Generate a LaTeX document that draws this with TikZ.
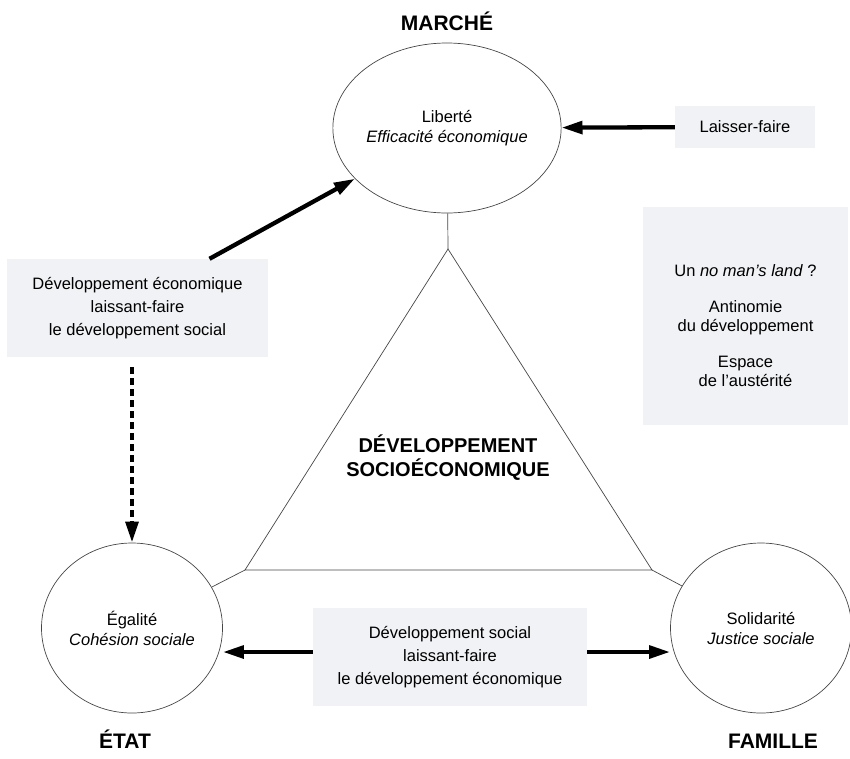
\documentclass[tikz,border=0pt]{standalone}
\usepackage{fontspec}
\setmainfont{Liberation Sans}
\usetikzlibrary{arrows.meta,shapes.geometric}
\definecolor{fondgris}{RGB}{241,242,245}
\definecolor{trait}{RGB}{70,70,70}

\begin{document}
\begin{tikzpicture}[x=1pt,y=-1pt,
  pole/.style={ellipse,draw=trait,line width=0.7pt,minimum width=181pt,minimum height=170pt,inner sep=0pt,align=center,font=\fontsize{16.5}{20}\selectfont},
  cadre/.style={fill=fondgris,align=center,inner sep=0pt,font=\fontsize{16.5}{23}\selectfont},
  titre/.style={anchor=base,font=\bfseries\fontsize{21}{25}\selectfont},
  fleche/.style={line width=4.3pt,-{Triangle[length=21pt,width=12.5pt]}},
  fin/.style={draw=trait,line width=0.7pt}]
\useasboundingbox (0,0) rectangle (850,758);

% les trois poles
\node[pole] (marche) at (447,128) {Liberté\\\textit{Efficacité économique}};
\node[pole] (etat) at (132,628) {Égalité\\\textit{Cohésion sociale}};
\node[pole] (famille) at (761,628) {Solidarité\\\textit{Justice sociale}};

\node[titre] (lab-marche) at (447,30) {MARCHÉ};
\node[titre] (lab-etat) at (125,748) {ÉTAT};
\node[titre] (lab-famille) at (773,748) {FAMILLE};

% triangle central
\coordinate (sommet) at (448,249);
\coordinate (base-g) at (245,570);
\coordinate (base-d) at (652,570);
\draw[fin] (sommet) -- (base-g) -- (base-d) -- cycle;
\draw[fin] (marche) -- (sommet);
\draw[fin] (base-g) -- (etat);
\draw[fin] (base-d) -- (famille);
\node[font=\bfseries\fontsize{20}{24}\selectfont,align=center] (centre) at (448,458) {DÉVELOPPEMENT\\SOCIOÉCONOMIQUE};

% encadres
\node[cadre,minimum width=261pt,minimum height=98pt] (dev-eco) at (137.5,308) {Développement économique\\laissant-faire\\le développement social};
\node[cadre,minimum width=274pt,minimum height=98pt] (dev-soc) at (450,657) {Développement social\\laissant-faire\\le développement économique};
\node[cadre,minimum width=140pt,minimum height=42pt] (laisser) at (745,127) {Laisser-faire};
\node[cadre,minimum width=205pt,minimum height=218pt] (no-mans) at (745.5,316) {};
\node[align=center,font=\fontsize{16.5}{19}\selectfont] (no-mans-txt) at (745.5,326) {Un \textit{no man’s land} ?\\[17pt]Antinomie\\du développement\\[17pt]Espace\\de l’austérité};

% fleches
\draw[fleche] (laisser) -- (marche);
\draw[fleche] ([xshift=72pt]dev-eco.north) -- (marche);
\draw[fleche,dash pattern=on 7pt off 4pt,shorten <=10pt] (dev-eco.south -| etat.north) -- (etat.north);
\draw[fleche] ([yshift=5pt]dev-soc.west) -- ([yshift=5pt]dev-soc.west -| etat.east);
\draw[fleche] ([yshift=5pt]dev-soc.east) -- ([yshift=5pt]dev-soc.east -| famille.west);

\end{tikzpicture}
\end{document}
